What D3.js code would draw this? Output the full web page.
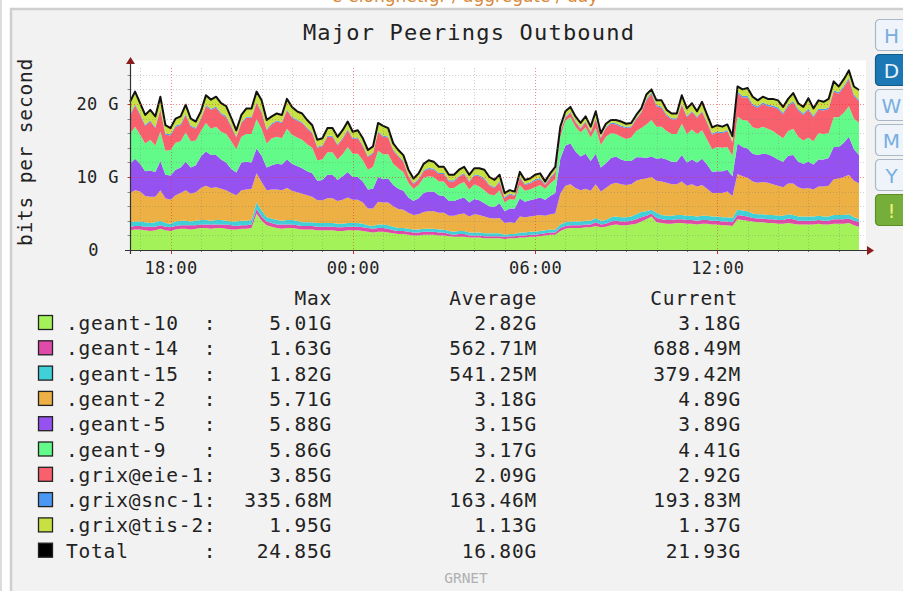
<!DOCTYPE html>
<html>
<head>
<meta charset="utf-8">
<script src="https://cdn.jsdelivr.net/npm/d3@7"></script>
<style>
  body { margin: 0; background: #fff; overflow: hidden; }
  text { font-family: "DejaVu Sans Mono", monospace; }
</style>
</head>
<body>
<div id="container"></div>
<script>
// series order = stacking order (bottom to top)
const seriesNames = [".geant-10", ".geant-14", ".geant-15", ".geant-2", ".geant-5",
    ".geant-9", ".grix@eie-1", ".grix@snc-1", ".grix@tis-2"];
const seriesColors = ["#a4f25a", "#e04aa8", "#3fd0d8", "#ecb044", "#9652f0",
    "#62fa88", "#f8606e", "#4a98f2", "#c8e042"];

// samples every 10 minutes, starting 16:40 (values in Gbit/s)
const startTime = new Date(2024, 0, 1, 16, 40);
const stepMinutes = 10;

const geant10 = [
    2.7,2.8, 2.8,2.7, 2.6,2.7, 2.9,2.7, 2.6,2.8, 2.9,2.9, 2.8,2.9, 3.0,3.0, 2.9,3.0, 3.0,2.9,
    2.8,2.8, 2.9,2.9, 3.0,5.0, 4.0,3.4, 3.2,3.0, 2.9,3.0, 3.0,2.9, 2.8,2.8, 2.8,2.7, 2.7,2.7,
    2.7,2.6, 2.6,2.7, 2.7,2.7, 2.6,2.5, 2.4,2.5, 2.5,2.4, 2.3,2.2, 2.2,2.1, 2.0,2.0, 2.1,2.1,
    2.1,2.0, 2.0,1.9, 1.8,1.8, 1.8,1.7, 1.7,1.7, 1.6,1.6, 1.6,1.6, 1.5,1.6, 1.6,1.7, 1.7,1.8,
    1.8,1.9, 2.0,2.1, 2.1,2.6, 2.9,3.0, 3.0,3.0, 3.1,3.1, 3.3,3.1, 3.2,3.4, 3.5,3.4, 3.4,3.5,
    3.6,3.9, 4.2,4.6, 3.8,3.7, 3.6,3.6, 3.7,3.7, 3.6,3.6, 3.5,3.6, 3.6,3.5, 3.5,3.4, 3.4,3.3,
    4.2,4.1, 4.0,3.9, 3.8,3.8, 3.7,3.7, 3.6,3.6, 3.7,3.6, 3.5,3.5, 3.5,3.5, 3.6,3.5, 3.5,3.6,
    3.6,3.6, 3.7,3.4, 3.18];
const geant14 = [
    .5,.5, .5,.5, .6,.5, .5,.5, .5,.5, .5,.5, .6,.5, .5,.5, .6,.5, .5,.6,
    .6,.5, .5,.5, .5,.6, .6,.5, .5,.5, .6,.5, .5,.5, .5,.5, .5,.5, .5,.5,
    .5,.5, .5,.5, .5,.5, .5,.5, .5,.5, .5,.5, .4,.4, .4,.4, .4,.4, .4,.4,
    .4,.4, .4,.3, .3,.4, .4,.3, .3,.3, .3,.3, .3,.3, .3,.3, .3,.3, .3,.3,
    .3,.3, .3,.3, .3,.4, .4,.4, .4,.4, .4,.4, .5,.4, .4,.5, .5,.5, .5,.5,
    .6,.6, .5,.4, .6,.5, .5,.5, .5,.5, .5,.5, .5,.5, .5,.5, .5,.5, .5,.5,
    .6,.6, .6,.5, .5,.5, .5,.5, .5,.5, .6,.6, .5,.5, .5,.5, .5,.5, .5,.6,
    .6,.6, .6,.6, .69];
const geant15 = [
    .6,.6, .6,.6, .5,.6, .6,.5, .5,.6, .6,.6, .5,.6, .6,.6, .5,.6, .6,.5,
    .5,.6, .6,.6, .6,.9, .8,.6, .6,.6, .5,.6, .6,.6, .5,.5, .5,.5, .5,.5,
    .5,.5, .5,.5, .5,.5, .5,.4, .4,.5, .5,.5, .5,.4, .4,.4, .4,.4, .4,.4,
    .4,.4, .4,.4, .4,.4, .4,.4, .4,.4, .4,.4, .4,.4, .3,.3, .3,.4, .4,.4,
    .4,.4, .4,.4, .4,.5, .5,.5, .5,.5, .5,.5, .6,.5, .5,.6, .6,.6, .6,.6,
    .7,.7, .6,.5, .7,.6, .6,.6, .6,.6, .6,.6, .6,.6, .6,.6, .6,.6, .6,.6,
    .7,.7, .7,.6, .6,.6, .6,.6, .6,.6, .6,.6, .6,.6, .6,.6, .6,.6, .6,.6,
    .6,.6, .6,.5, .38];
const geant2 = [
    4.0,4.3, 4.1,3.6, 3.6,3.5, 4.2,3.4, 3.3,3.6, 3.8,4.2, 3.8,3.9, 4.4,4.7, 4.5,4.5, 4.3,4.2,
    3.9,3.6, 4.2,4.3, 4.3,4.0, 3.9,3.7, 4.0,4.2, 4.2,4.4, 4.0,3.9, 3.9,3.7, 3.5,3.1, 3.1,3.4,
    3.4,3.1, 3.3,3.5, 3.2,3.2, 2.9,2.3, 2.4,3.1, 3.0,3.1, 2.8,2.6, 2.5,2.2, 2.0,2.1, 2.3,2.4,
    2.4,2.3, 2.3,2.1, 2.2,2.3, 2.4,2.2, 2.5,2.4, 2.3,2.1, 2.0,2.1, 1.6,1.6, 1.5,2.2, 2.1,2.1,
    2.2,2.2, 2.0,2.1, 2.2,4.2, 5.0,5.1, 4.6,4.3, 4.4,4.1, 4.6,4.0, 4.4,4.5, 4.6,4.5, 4.4,4.4,
    4.6,4.5, 4.5,4.5, 4.4,4.6, 4.5,4.3, 4.2,4.6, 4.1,4.3, 4.1,4.2, 3.7,3.2, 3.2,3.3, 3.5,3.0,
    4.9,4.7, 4.6,4.4, 4.3,4.4, 4.4,4.2, 4.1,3.9, 4.2,4.3, 4.0,3.8, 3.9,3.7, 4.0,4.1, 4.2,4.9,
    5.0,5.2, 5.4,5.0, 4.89];
const geant5 = [
    4.0,4.3, 3.8,3.4, 3.6,3.4, 4.0,3.2, 3.3,3.5, 3.5,3.9, 3.6,3.7, 4.3,4.7, 4.5,4.4, 4.0,3.8,
    3.3,3.1, 3.8,3.8, 3.6,3.4, 3.6,3.1, 3.3,3.5, 3.5,3.9, 3.7,3.6, 3.5,3.3, 3.2,2.7, 2.8,3.2,
    3.2,2.9, 3.2,3.5, 3.1,3.1, 2.9,2.6, 2.7,3.4, 3.2,3.3, 2.9,2.8, 2.6,2.1, 1.9,2.2, 2.6,2.7,
    2.7,2.4, 2.3,2.0, 2.0,2.1, 2.2,1.9, 2.1,2.0, 1.8,1.6, 1.6,2.0, 1.6,1.9, 2.0,2.5, 2.1,2.2,
    2.3,2.4, 2.2,2.5, 2.8,4.8, 5.5,5.6, 5.0,4.6, 4.8,4.1, 4.2,3.3, 3.4,3.6, 3.6,3.4, 3.3,3.2,
    3.2,3.0, 2.8,2.8, 3.0,3.2, 3.2,3.1, 3.1,3.6, 3.2,3.4, 3.3,3.6, 3.3,2.9, 3.0,3.0, 3.0,2.7,
    4.2,4.0, 4.0,3.8, 3.8,3.9, 3.9,3.8, 3.6,3.5, 3.8,3.9, 3.5,3.4, 3.6,3.4, 3.7,3.7, 3.8,4.4,
    4.3,4.7, 5.2,4.3, 3.89];
const geant9 = [
    4.1,4.4, 4.0,3.8, 4.2,3.6, 4.0,3.3, 3.5,3.7, 3.6,4.0, 3.6,3.4, 3.5,3.9, 3.6,3.9, 3.8,3.9,
    3.8,3.2, 3.5,3.8, 3.9,4.0, 3.7,3.3, 3.7,3.7, 3.6,4.2, 4.0,3.9, 3.9,3.7, 3.5,2.8, 2.8,3.1,
    3.1,2.8, 3.0,3.4, 3.2,3.2, 2.9,2.7, 3.0,3.6, 3.4,3.3, 2.9,2.8, 2.6,2.0, 1.7,1.8, 2.1,2.1,
    2.0,1.9, 2.0,1.8, 1.8,2.0, 2.1,1.8, 2.0,1.9, 1.8,1.6, 1.6,1.8, 1.2,1.3, 1.2,1.8, 1.5,1.5,
    1.6,1.7, 1.5,1.7, 1.9,3.0, 3.4,3.6, 3.4,3.3, 3.6,3.2, 3.5,3.1, 3.6,3.4, 3.1,3.1, 3.0,3.2,
    3.6,4.0, 4.6,5.0, 4.4,4.3, 3.9,3.8, 3.8,4.3, 3.9,4.1, 3.9,3.9, 3.4,3.1, 3.3,3.2, 3.1,2.8,
    3.7,3.7, 3.8,3.6, 3.6,3.7, 3.5,3.5, 3.4,3.2, 3.4,3.6, 3.4,3.2, 3.3,3.2, 3.6,3.5, 3.4,4.1,
    4.1,4.1, 4.2,4.2, 4.41];
const grixEie1 = [
    2.5,2.9, 2.7,2.4, 2.5,2.4, 3.0,2.2, 2.0,2.2, 2.2,2.4, 2.0,1.6, 1.6,2.3, 2.6,2.6, 2.4,2.3,
    2.0,1.6, 1.9,2.2, 2.2,2.2, 2.2,1.8, 1.9,2.1, 2.1,2.5, 2.3,2.3, 2.3,2.1, 2.0,1.7, 1.8,2.1,
    2.1,1.9, 2.1,2.3, 2.0,2.1, 1.9,1.7, 1.8,2.5, 2.4,2.3, 1.8,1.6, 1.4,0.9, 0.6,0.7, 0.9,1.0,
    1.0,1.0, 1.0,0.9, 0.9,1.0, 1.1,1.0, 1.2,1.4, 1.5,1.2, 1.0,1.1, 0.6,0.6, 0.5,1.0, 0.8,0.8,
    0.9,0.8, 0.5,0.7, 0.9,0.7, 0.4,0.6, 0.6,0.5, 0.7,0.7, 1.2,0.9, 1.2,1.3, 1.3,1.4, 1.5,1.4,
    1.6,2.1, 3.3,3.6, 2.8,2.6, 2.1,2.0, 2.0,2.6, 2.3,2.4, 2.2,2.5, 2.3,2.0, 2.0,2.0, 2.2,1.8,
    3.2,3.1, 3.2,3.0, 2.9,3.1, 3.1,3.3, 3.5,3.3, 3.4,3.6, 3.6,3.5, 3.8,3.3, 3.2,3.2, 3.3,3.5,
    3.2,3.5, 3.7,3.1, 2.92];
const grixSnc1 = [
    .15,.15, .16,.15, .14,.15, .15,.15, .15,.15, .16,.15, .15,.15, .14,.15, .15,.15, .16,.15,
    .15,.15, .15,.15, .14,.15, .16,.15, .15,.15, .15,.15, .16,.15, .15,.15, .14,.15, .15,.15,
    .15,.15, .16,.15, .15,.15, .15,.15, .14,.15, .15,.15, .15,.15, .14,.15, .15,.15, .15,.15,
    .16,.15, .15,.15, .14,.15, .15,.15, .15,.15, .15,.15, .14,.15, .15,.15, .15,.15, .14,.15,
    .15,.15, .15,.15, .15,.15, .16,.15, .15,.15, .15,.15, .16,.15, .15,.15, .15,.15, .16,.15,
    .15,.15, .2,.2, .16,.15, .15,.15, .15,.15, .16,.15, .15,.15, .15,.15, .16,.15, .15,.15,
    .2,.2, .2,.2, .19,.2, .2,.2, .21,.2, .2,.2, .2,.2, .2,.2, .19,.2, .2,.2,
    .2,.2, .21,.2, .19];
const grixTis2 = [
    1.75,1.75, 1.45,1.35, 1.45,1.45, 1.65,1.15, .85,.95, 1.05,1.25, .95,.85, .95,1.35, 1.25,1.35, 1.35,1.35,
    1.05,.85, .95,1.15, 1.15,1.45, 1.55,1.25, .95,.95, .95,1.45, 1.34,1.15, 1.15,1.05, .95,.95, .95,1.05,
    1.05,1.05, 1.05,1.05, .85,.95, .95,.85, .85,1.15, 1.35,1.15, .85,.75, .76,.75, .65,.75, .85,1.05,
    .94,.85, .85,.75, .76,.85, .85,.85, .85,.95, 1.15,1.05, .96,.85, .55,.45, .45,.65, .56,.55,
    .65,.65, .35,.55, .65,.55, .74,.65, .65,.65, .65,.65, .94,.55, .45,.35, .45,.55, .44,.45,
    .45,.45, .6,.4, .64,.85, .65,.65, .65,1.15, 1.04,1.05, .75,1.25, .95,.85, .84,.75, .75,.75,
    .7,.9, 1.1,1.0, .81,.8, .8,.9, .99,.8, .8,1.1, .8,.9, 1.4,1.0, 1.11,1.0, 1.2,1.2,
    .8,.9, .99,1.1, 1.37];

const seriesValues = [geant10, geant14, geant15, geant2, geant5, geant9, grixEie1, grixSnc1, grixTis2];

// legend statistics
const maxVals = ["5.01G", "1.63G", "1.82G", "5.71G", "5.88G", "5.86G", "3.85G", "335.68M", "1.95G", "24.85G"];
const avgVals = ["2.82G", "562.71M", "541.25M", "3.18G", "3.15G", "3.17G", "2.09G", "163.46M", "1.13G", "16.80G"];
const curVals = ["3.18G", "688.49M", "379.42M", "4.89G", "3.89G", "4.41G", "2.92G", "193.83M", "1.37G", "21.93G"];

const yTicks = [0, 10, 20];
const buttons = ["H", "D", "W", "M", "Y", "!"];

// ---------------------------------------------------------------
const width = 903, height = 591;
const plot = { left: 130.5, right: 866, top: 67.5, bottom: 250 };

const svg = d3.select("#container").append("svg")
    .attr("width", width)
    .attr("height", height);

// page chrome
svg.append("rect").attr("x", 0).attr("y", 0).attr("width", 2).attr("height", height).attr("fill", "#dcdcdc");
svg.append("rect")
    .attr("x", 11).attr("y", 9)
    .attr("width", 950).attr("height", 650)
    .attr("fill", "#f2f2f2")
    .attr("stroke", "#cfcfcf").attr("stroke-width", 2.5);

svg.append("text")
    .attr("x", 465).attr("y", 2)
    .attr("text-anchor", "middle")
    .style("font-family", "DejaVu Sans")
    .style("font-size", "17px")
    .attr("fill", "#d9893a")
    .text("e-elongnet.gr / aggregate / day");

const data = geant10.map((_, i) => {
    const row = { time: d3.timeMinute.offset(startTime, i * stepMinutes) };
    seriesNames.forEach((k, j) => { row[k] = seriesValues[j][i] * 1e9; });
    return row;
});

const x = d3.scaleTime()
    .domain([startTime, d3.timeMinute.offset(startTime, stepMinutes * (geant10.length - 1))])
    .range([130, 859]);

const y = d3.scaleLinear()
    .domain([0, 25e9])
    .range([plot.bottom, plot.top]);

// plot canvas
svg.append("rect")
    .attr("x", plot.left).attr("y", plot.top - 7)
    .attr("width", plot.right - plot.left).attr("height", plot.bottom - plot.top + 7)
    .attr("fill", "#fff");

const stack = d3.stack().keys(seriesNames);
const layers = stack(data);

const area = d3.area()
    .x(d => x(d.data.time))
    .y0(d => y(d[0]))
    .y1(d => y(d[1]));

svg.append("g")
    .selectAll("path")
    .data(layers)
    .join("path")
    .attr("fill", (d, i) => seriesColors[i])
    .attr("d", area);

const totalLine = d3.line()
    .x(d => x(d.time))
    .y(d => y(d3.sum(seriesNames, k => d[k])));

svg.append("path")
    .datum(data)
    .attr("fill", "none")
    .attr("stroke", "#111")
    .attr("stroke-width", 2)
    .attr("stroke-linejoin", "round")
    .attr("d", totalLine);

// grid (drawn over the data like rrdtool)
const grid = svg.append("g").attr("shape-rendering", "crispEdges");
const hourTicks = d3.timeHour.range(d3.timeHour.ceil(x.domain()[0]), x.domain()[1]);
grid.selectAll(".vgrid")
    .data(hourTicks)
    .join("line")
    .attr("x1", d => Math.round(x(d)) + 0.5).attr("x2", d => Math.round(x(d)) + 0.5)
    .attr("y1", plot.top).attr("y2", plot.bottom)
    .attr("stroke", d => d.getHours() % 6 === 0 ? "rgba(240,40,40,0.55)" : "rgba(120,120,120,0.35)")
    .attr("stroke-dasharray", "1,2");

const gridValues = d3.range(2e9, 25e9, 2e9);
grid.selectAll(".hgrid")
    .data(gridValues)
    .join("line")
    .attr("x1", plot.left).attr("x2", plot.right)
    .attr("y1", d => Math.round(y(d)) + 0.5).attr("y2", d => Math.round(y(d)) + 0.5)
    .attr("stroke", d => d % 10e9 === 0 ? "rgba(240,40,40,0.55)" : "rgba(120,120,120,0.35)")
    .attr("stroke-dasharray", "1,2");

// axes
const xAxis = d3.axisBottom(x)
    .ticks(d3.timeHour.every(6))
    .tickFormat(d3.timeFormat("%H:%M"))
    .tickSize(0)
    .tickPadding(12);

svg.append("g")
    .attr("transform", `translate(0,${plot.bottom})`)
    .call(xAxis)
    .call(g => g.select(".domain").remove())
    .call(g => g.selectAll("text")
        .attr("fill", "#222")
        .style("font-family", "DejaVu Sans Mono")
        .style("font-size", "17px")
        .style("letter-spacing", "0.4px"));

svg.append("g")
    .selectAll("line")
    .data(hourTicks)
    .join("line")
    .attr("x1", d => Math.round(x(d)) + 0.5).attr("x2", d => Math.round(x(d)) + 0.5)
    .attr("y1", plot.bottom).attr("y2", d => plot.bottom + (d.getHours() % 6 === 0 ? 4 : 2))
    .attr("stroke", d => d.getHours() % 6 === 0 ? "#c03030" : "#777");

const yAxis = d3.axisLeft(y)
    .tickValues(yTicks.map(v => v * 1e9))
    .tickFormat(d => d === 0 ? "0" : `${d / 1e9} G`)
    .tickSize(0)
    .tickPadding(12);

svg.append("g")
    .attr("transform", `translate(119,0)`)
    .call(yAxis)
    .call(g => g.select(".domain").remove())
    .call(g => g.selectAll("text")
        .attr("fill", "#222")
        .attr("x", d => d === 0 ? -20 : 0)
        .style("font-family", "DejaVu Sans Mono")
        .style("font-size", "17px")
        .style("letter-spacing", "0.4px"));

svg.append("g")
    .selectAll("line")
    .data(gridValues)
    .join("line")
    .attr("x1", plot.left - 3).attr("x2", plot.left)
    .attr("y1", d => Math.round(y(d)) + 0.5).attr("y2", d => Math.round(y(d)) + 0.5)
    .attr("stroke", d => d % 10e9 === 0 ? "#c03030" : "#888");

svg.append("line")
    .attr("x1", 125).attr("x2", 867)
    .attr("y1", plot.bottom + 0.5).attr("y2", plot.bottom + 0.5)
    .attr("stroke", "#333").attr("stroke-width", 1.2);
svg.append("line")
    .attr("x1", plot.left).attr("x2", plot.left)
    .attr("y1", plot.bottom + 4).attr("y2", 62)
    .attr("stroke", "#333").attr("stroke-width", 1.2);
svg.append("path")
    .attr("d", `M867,${plot.bottom - 4} L874,${plot.bottom + 0.5} L867,${plot.bottom + 5} Z`)
    .attr("fill", "#8b1c1c");
svg.append("path")
    .attr("d", `M${plot.left - 4.5},64 L${plot.left},57 L${plot.left + 4.5},64 Z`)
    .attr("fill", "#8b1c1c");

// title and axis label
svg.append("text")
    .attr("x", 469).attr("y", 40)
    .attr("text-anchor", "middle")
    .attr("fill", "#222")
    .style("font-size", "22px")
    .style("letter-spacing", "1.2px")
    .text("Major Peerings Outbound");

svg.append("text")
    .attr("transform", "translate(32,152) rotate(-90)")
    .attr("text-anchor", "middle")
    .attr("fill", "#222")
    .style("font-size", "19.5px")
    .style("letter-spacing", "0.8px")
    .text("bits per second");

// legend
const legend = svg.append("g")
    .attr("fill", "#222")
    .style("font-size", "19.5px")
    .style("letter-spacing", "0.8px");

const headerY = 305;
const rowY = i => 330 + i * 25.3;
const colMax = 332, colAvg = 537, colCur = 741;

[["Max", colMax], ["Average", colAvg], ["Current", colCur - 3]].forEach(([t, cx]) => {
    legend.append("text").attr("x", cx).attr("y", headerY).attr("text-anchor", "end").text(t);
});

const legendNames = seriesNames.concat(["Total"]);
const legendColors = seriesColors.concat(["#000"]);

const rows = legend.selectAll(".row")
    .data(legendNames)
    .join("g")
    .attr("transform", (d, i) => `translate(0,${rowY(i)})`);

rows.append("rect")
    .attr("x", 38.5).attr("y", -14.5)
    .attr("width", 14).attr("height", 14)
    .attr("fill", (d, i) => legendColors[i])
    .attr("stroke", "#222").attr("stroke-width", 1.3);
rows.append("text").attr("x", 66).text(d => d);
rows.append("text").attr("x", 210).attr("text-anchor", "middle").text(":");
rows.append("text").attr("x", colMax).attr("text-anchor", "end").text((d, i) => maxVals[i]);
rows.append("text").attr("x", colAvg).attr("text-anchor", "end").text((d, i) => avgVals[i]);
rows.append("text").attr("x", colCur).attr("text-anchor", "end").text((d, i) => curVals[i]);

svg.append("text")
    .attr("x", 466).attr("y", 583)
    .attr("text-anchor", "middle")
    .attr("fill", "#b0b0b0")
    .style("font-size", "14.5px")
    .text("GRNET");

// period buttons
const btn = svg.append("g")
    .selectAll("g")
    .data(buttons)
    .join("g")
    .attr("transform", (d, i) => `translate(875.5,${19.5 + i * 35})`);

btn.append("rect")
    .attr("width", 34).attr("height", 31).attr("rx", 4)
    .attr("fill", d => d === "D" ? "#1b78b4" : d === "!" ? "#76ae3a" : "#eef4fa")
    .attr("stroke", d => d === "D" ? "#135a88" : d === "!" ? "#5c8f2a" : "#a8b8c8")
    .attr("stroke-width", 1.2);

btn.append("text")
    .attr("x", 16).attr("y", 23)
    .attr("text-anchor", "middle")
    .style("font-family", "DejaVu Sans")
    .style("font-size", "20px")
    .attr("fill", d => d === "D" ? "#e8f4ff" : d === "!" ? "#f0f07a" : "#78aee0")
    .text(d => d);
</script>
</body>
</html>
